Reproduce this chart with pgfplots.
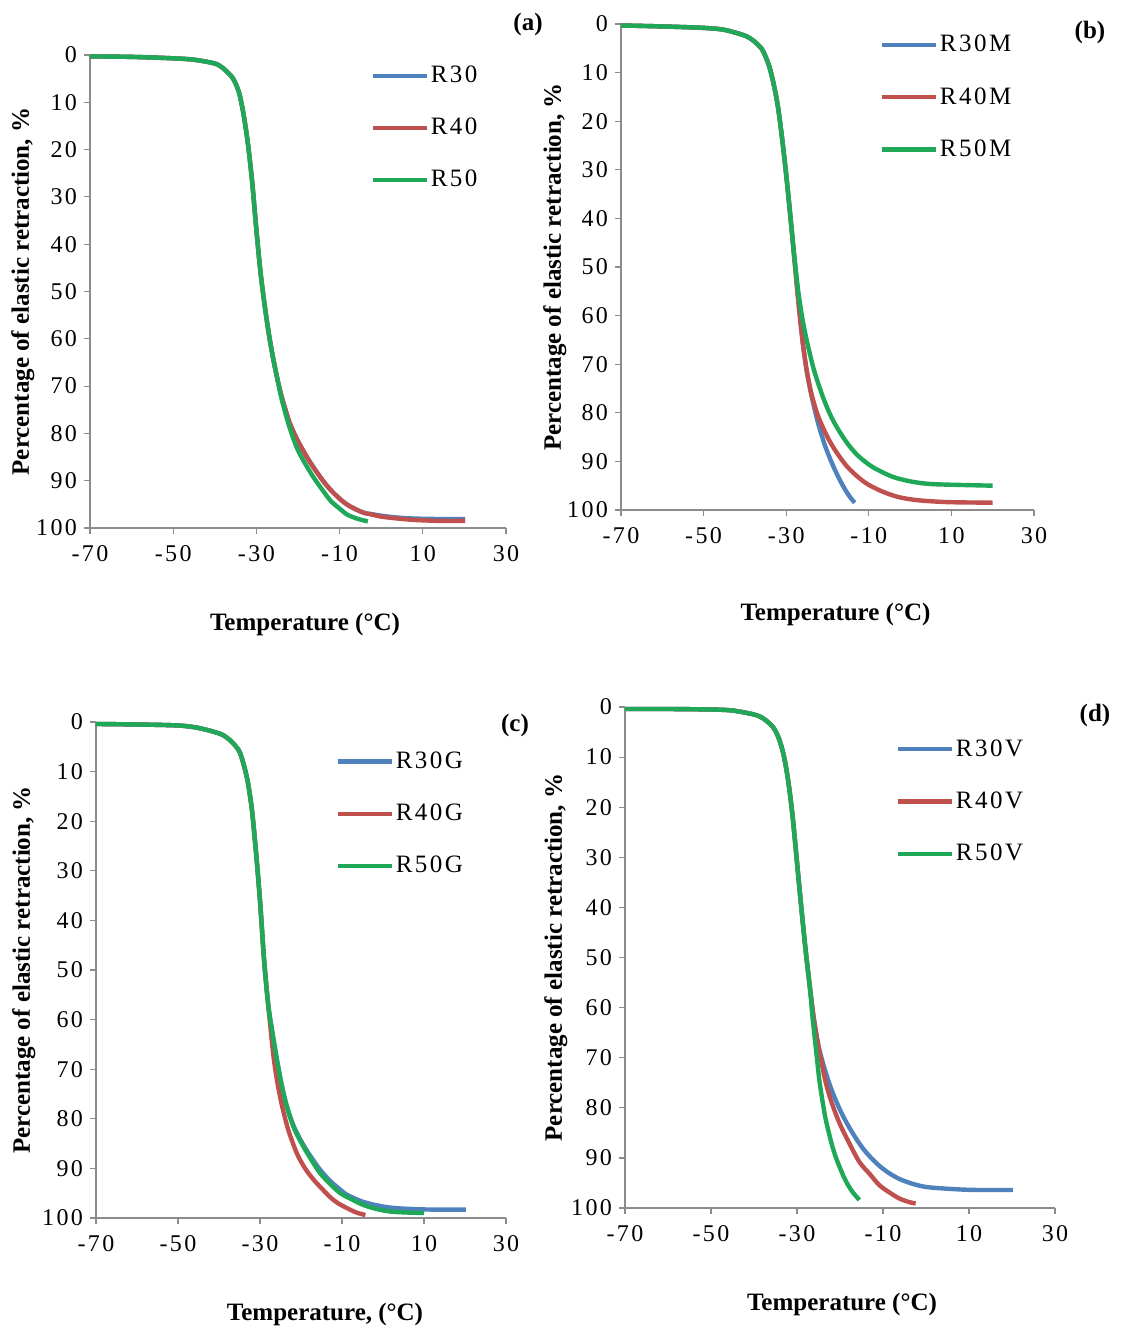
\documentclass[border=0pt]{standalone}
\usepackage{fontspec}
\setmainfont{Liberation Serif}
\newfontfamily\spaced[LetterSpace=10]{Liberation Serif}
\usepackage{pgfplots}
\pgfplotsset{compat=1.18}
\definecolor{cblue}{HTML}{4F81BD}
\definecolor{cred}{HTML}{C0504D}
\definecolor{cgreen}{HTML}{1EA858}
\definecolor{axgray}{HTML}{8C8C8C}
\newcommand{\fs}{\fontsize{12}{14}\selectfont}
\newcommand{\fl}{\fontsize{12.5}{14}\selectfont}
\pgfplotsset{
  panel/.style={
    scale only axis,
    xmin=-70, xmax=30, ymin=0, ymax=100,
    y dir=reverse,
    axis x line*=bottom, axis y line*=left,
    axis line style={axgray, line width=0.6pt},
    xtick={-70,-50,-30,-10,10,30},
    ytick={0,10,...,100},
    tick align=outside,
    major tick length=3pt,
    tick style={axgray, line width=0.6pt},
    minor tick num=0,
    ticklabel style={font=\spaced\fs, text=black},
    /pgf/number format/assume math mode=true,
    xticklabel style={yshift=-2pt},
    ylabel={Percentage of elastic retraction, \%},
    ylabel style={font=\fl\bfseries},
    xlabel style={font=\fl\bfseries},
    legend style={draw=none, fill=none, font=\spaced\fl, anchor=north west,
      row sep=14.3pt, inner sep=0pt, nodes={inner sep=1pt}},
    legend cell align=left,
    legend image code/.code={\draw[#1, line width=2.2pt] (0pt,0pt) -- (27pt,0pt);},
    every axis plot/.append style={line width=2.2pt, smooth, tension=0.5},
    clip=false,
  }
}
\begin{document}
\begin{tikzpicture}
\useasboundingbox (0,0) rectangle (562pt,664.5pt);
% ---------------- (a)
\begin{axis}[panel, at={(45pt,400.5pt)}, anchor=south west,
  width=208pt, height=236.5pt,
  xlabel={Temperature (\textdegree C)},
  xlabel style={yshift=-19pt, xshift=3.5pt},
  ylabel shift=-6pt,
  legend style={at={(0.673,0.982)}}]
\addplot[cblue] coordinates {(-70,0.3)(-60,0.4)(-50,0.7)(-45,1.0)(-40,1.8)(-38,2.8)(-36,4.5)(-35,6)(-34,8.5)(-33,13)(-32,19)(-31,27)(-30,37)(-29,46)(-28,53)(-27,59)(-26,64)(-25,68.3)(-24,72)(-23,75)(-22,77.8)(-20.2,81.3)(-18,84.8)(-16.1,87.4)(-14,90)(-12.1,92)(-10,93.8)(-8.1,95.1)(-6,96.1)(-4.1,96.8)(-2,97.1)(0,97.4)(4,97.8)(8,98)(14,98.1)(20.2,98.1)};
\addplot[cred] coordinates {(-70,0.3)(-60,0.4)(-50,0.7)(-45,1.0)(-40,1.8)(-38,2.8)(-36,4.5)(-35,6)(-34,8.5)(-33,13)(-32,19)(-31,27)(-30,37)(-29,46)(-28,53)(-27,59)(-26,64)(-25,68.3)(-24,72)(-23,75)(-22,77.8)(-20.2,81.3)(-18,84.8)(-16.1,87.4)(-14,90)(-12.1,92)(-10,93.8)(-8.1,95.1)(-6,96.1)(-4.1,96.8)(-2,97.2)(0,97.6)(4,98)(8,98.3)(14,98.5)(20.2,98.5)};
\addplot[cgreen] coordinates {(-70,0.3)(-60,0.4)(-50,0.7)(-45,1.0)(-40,1.8)(-38,2.8)(-36,4.5)(-35,6)(-34,8.5)(-33,13)(-32,19)(-31,27)(-30,37)(-29,46)(-28,53)(-27,59)(-26,64)(-25,68.3)(-24,72.5)(-23,75.8)(-22,78.8)(-20.2,83.2)(-18,86.8)(-16.1,89.5)(-14,92.1)(-12.1,94.3)(-10,95.9)(-8.1,97.2)(-5.5,98.1)(-3.2,98.6)};
\legend{R30,R40,R50}
\end{axis}
% ---------------- (b)
\begin{axis}[panel, at={(310.5pt,409.5pt)}, anchor=south west,
  width=206.5pt, height=243pt,
  xlabel={Temperature (\textdegree C)},
  xlabel style={yshift=-23pt, xshift=4pt},
  ylabel shift=-6.5pt,
  legend style={at={(0.625,0.982)}}]
\addplot[cblue] coordinates {(-70,0.3)(-60,0.5)(-50,0.8)(-45,1.2)(-40,2.4)(-38,3.4)(-36,5)(-35,6.7)(-34,9)(-33,12.5)(-32,17)(-31,23.5)(-30,31)(-29,39.5)(-28,48.5)(-27,57.5)(-26,65.5)(-25,71.5)(-24,76)(-23,79.7)(-22,83)(-20.5,87)(-19,90.2)(-17.5,93)(-16,95.4)(-14.5,97.4)(-13.4,98.5)};
\addplot[cred] coordinates {(-70,0.3)(-60,0.5)(-50,0.8)(-45,1.2)(-40,2.4)(-38,3.4)(-36,5)(-35,6.7)(-34,9)(-33,12.5)(-32,17)(-31,23.5)(-30,31)(-29,39.5)(-28,48.5)(-27,57.5)(-26,65.5)(-25,71.5)(-24,75.7)(-23,78.8)(-22,81.3)(-20,85)(-18,87.9)(-15,91.3)(-11,94.3)(-7,96.1)(-3,97.3)(1,97.9)(5,98.2)(10,98.4)(20,98.5)};
\addplot[cgreen] coordinates {(-70,0.3)(-60,0.5)(-50,0.8)(-45,1.2)(-40,2.4)(-38,3.4)(-36,5)(-35,6.7)(-34,9)(-33,12.5)(-32,17)(-31,23.5)(-30,31)(-29,39.5)(-28,48)(-27,55.5)(-26,61)(-25,65.2)(-24,68.8)(-23,72)(-21,77)(-19,81)(-17,84)(-15,86.5)(-13,88.5)(-11,90)(-9,91.2)(-7,92.1)(-5,92.9)(-3,93.5)(0,94.1)(3,94.5)(6,94.7)(10,94.8)(15,94.9)(20,95)};
\legend{R30M,R40M,R50M}
\end{axis}
% ---------------- (c)
\begin{axis}[panel, at={(48pt,55.5pt)}, anchor=south west,
  width=205pt, height=248pt,
  xlabel={Temperature, (\textdegree C)},
  xlabel style={yshift=-19pt, xshift=12pt},
  ylabel shift=-3.5pt,
  legend style={at={(0.583,0.945)}}]
\addplot[cblue] coordinates {(-70,0.4)(-60,0.5)(-50,0.7)(-45,1.2)(-40,2.3)(-38,3.2)(-36,4.8)(-35,6)(-34,8.5)(-33,12)(-32,17.5)(-31,26)(-30,36)(-29,48)(-28,57)(-27,62.5)(-26,67.5)(-25,72)(-24,75.8)(-23,78.7)(-21.5,82)(-19.4,85.3)(-17.3,88)(-15.3,90.3)(-12.8,92.6)(-10.4,94.3)(-8.8,95.3)(-5,96.7)(-0.6,97.6)(3,98)(7.6,98.2)(12,98.3)(20.2,98.3)};
\addplot[cred] coordinates {(-70,0.4)(-60,0.5)(-50,0.7)(-45,1.2)(-40,2.3)(-38,3.2)(-36,4.8)(-35,6)(-34,8.5)(-33,12)(-32,17.5)(-31,26)(-30,36)(-29,48)(-28,57)(-27.4,62)(-26.7,67.5)(-26,71.5)(-25,76)(-24,79.5)(-23,82.5)(-21,87)(-19,90)(-16.9,92.3)(-15,94)(-12.9,95.8)(-11,97)(-8.8,98)(-6.5,98.9)(-4.3,99.4)};
\addplot[cgreen] coordinates {(-70,0.4)(-60,0.5)(-50,0.7)(-45,1.2)(-40,2.3)(-38,3.2)(-36,4.8)(-35,6)(-34,8.5)(-33,12)(-32,17.5)(-31,26)(-30,36)(-29,48)(-28,57)(-27,62.5)(-26,67.5)(-25,72)(-24,75.8)(-23,78.8)(-21.5,82.3)(-19.4,85.6)(-17.3,88.5)(-15.3,91)(-12.8,93.2)(-10.4,95)(-7.5,96.3)(-4.7,97.4)(-1.5,98.2)(1.8,98.7)(6,98.9)(10,99)};
\legend{R30G,R40G,R50G}
\end{axis}
% ---------------- (d)
\begin{axis}[panel, at={(312.5pt,60.5pt)}, anchor=south west,
  width=215pt, height=250.5pt,
  xlabel={Temperature (\textdegree C)},
  xlabel style={yshift=-19pt, xshift=1pt},
  ylabel shift=-5pt,
  legend style={at={(0.628,0.94)}}]
\addplot[cblue] coordinates {(-70,0.4)(-60,0.4)(-50,0.5)(-45,0.7)(-40,1.5)(-38,2.2)(-36,3.6)(-35,4.8)(-34,6.8)(-33,10)(-32,15)(-31,22)(-30,31)(-29,40)(-28,48.5)(-27,56)(-26.2,61.5)(-25.5,65.2)(-24.8,68.4)(-23.3,73)(-21.7,77)(-19.5,81.3)(-17.1,85)(-14.5,88.3)(-11.6,91)(-9,92.8)(-6.2,94.2)(-3,95.2)(0,95.8)(4,96.1)(8,96.3)(12,96.4)(20.2,96.4)};
\addplot[cred] coordinates {(-70,0.4)(-60,0.4)(-50,0.5)(-45,0.7)(-40,1.5)(-38,2.2)(-36,3.6)(-35,4.8)(-34,6.8)(-33,10)(-32,15)(-31,22)(-30,31)(-29,40)(-28,48.5)(-27,56)(-26.2,61.5)(-25.6,65)(-24.5,70)(-23.3,75)(-22,78.8)(-20.2,82.9)(-18,86.8)(-15.5,90.8)(-13,93.3)(-10.9,95.4)(-8.5,96.9)(-6.2,98.1)(-4,98.8)(-2.4,99.1)};
\addplot[cgreen] coordinates {(-70,0.4)(-60,0.4)(-50,0.5)(-45,0.7)(-40,1.5)(-38,2.2)(-36,3.6)(-35,4.8)(-34,6.8)(-33,10)(-32,15)(-31,22)(-30,31)(-29,40)(-28,48.5)(-27,56)(-26.4,61.8)(-25.5,69)(-24.8,74.5)(-24,79)(-23.3,82.4)(-22,87)(-21,89.8)(-20,92)(-19,94)(-18,95.6)(-17,96.9)(-16,97.9)(-15.5,98.4)};
\legend{R30V,R40V,R50V}
\end{axis}
% panel labels
\node[font=\fl\bfseries] at (264pt,652pt) {(a)};
\node[font=\fl\bfseries] at (545pt,648pt) {(b)};
\node[font=\fl\bfseries] at (257.5pt,302pt) {(c)};
\node[font=\fl\bfseries] at (547.5pt,307pt) {(d)};
\end{tikzpicture}
\end{document}
